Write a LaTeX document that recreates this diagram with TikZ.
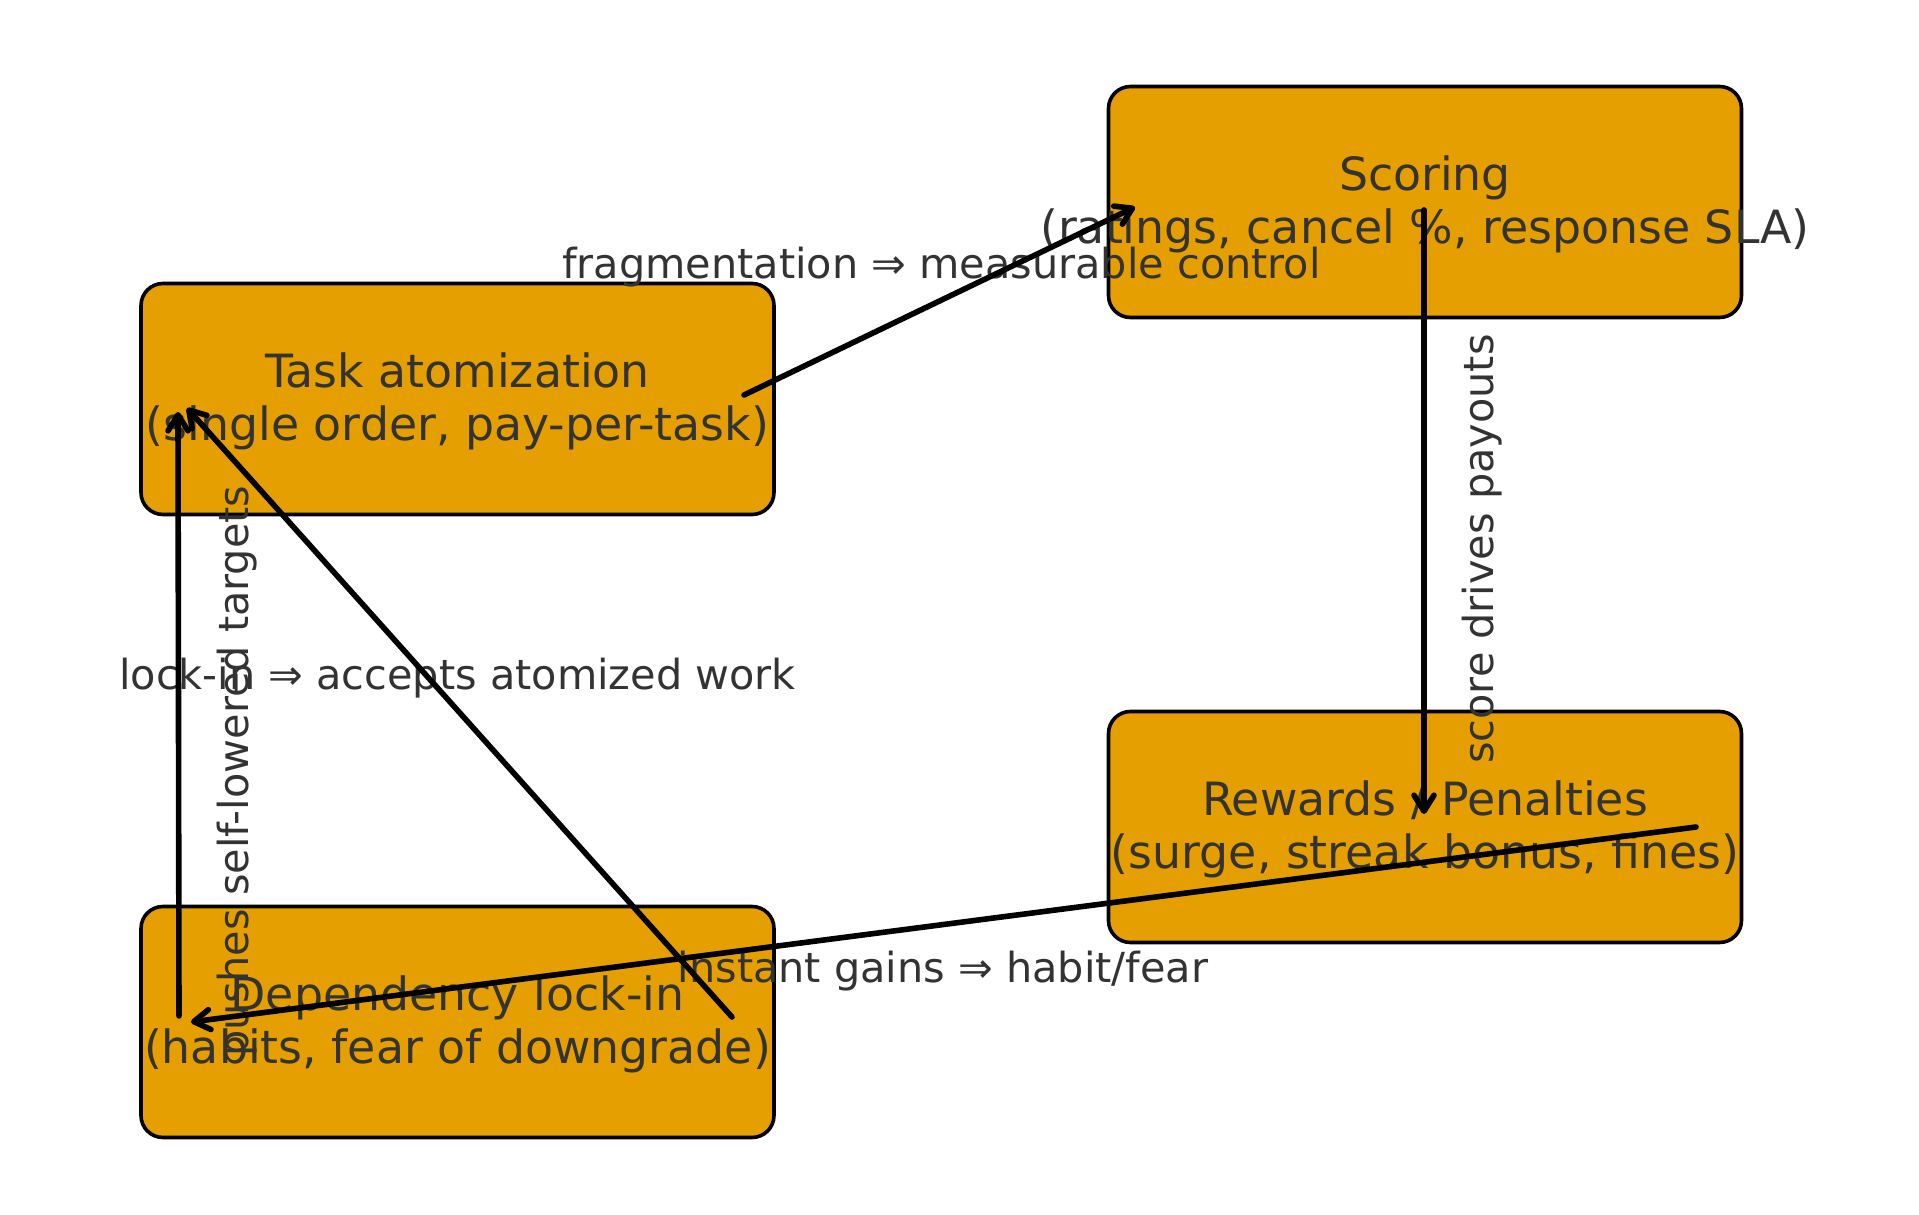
\documentclass[tikz,border=0pt]{standalone}
\usepackage{fontspec}
\setmainfont{DejaVu Sans}
\usetikzlibrary{arrows.meta,calc}
\definecolor{boxfill}{HTML}{E69F00}
\definecolor{txt}{HTML}{333333}
\begin{document}
\begin{tikzpicture}[x=0.5pt,y=-0.5pt,
  box/.style={draw=black, line width=1.8pt, fill=boxfill, rounded corners=11pt,
    minimum width=316.5pt, minimum height=115.5pt, inner sep=0pt, outer sep=0pt},
  boxtext/.style={text=txt, font=\fontsize{22.9pt}{26.2pt}\selectfont, align=center, inner sep=0pt},
  edgelabel/.style={text=txt, font=\fontsize{20.7pt}{24pt}\selectfont, inner sep=0pt, anchor=base},
  arr/.style={draw=black, line width=2.8pt, line cap=round,
    -{Straight Barb[length=8pt,width=10pt,round]}}
]
\useasboundingbox (0,0) rectangle (1919,1215);
\fill[white] (0,0) rectangle (1919,1215);

% boxes
\node[box] (task)    at (457.5,399)  {};
\node[box] (scoring) at (1425,202)   {};
\node[box] (rewards) at (1425,827)   {};
\node[box] (dep)     at (457.5,1022) {};

% box texts
\node[boxtext] (tasktext)    at ($(task.center)+(0,2.5)$)    {Task atomization\\(single order, pay-per-task)};
\node[boxtext] (scoringtext) at ($(scoring.center)+(0,2.5)$) {Scoring\\(ratings, cancel \%, response SLA)};
\node[boxtext] (rewardstext) at ($(rewards.center)+(0,2.5)$) {Rewards / Penalties\\(surge, streak bonus, fines)};
\node[boxtext] (deptext)     at ($(dep.center)+(0,2.5)$)     {Dependency lock-in\\(habits, fear of downgrade)};

% edge labels
\node[edgelabel] (l1) at (941.5,278) {fragmentation ⇒ measurable control};
\node[edgelabel, rotate=90] (l2) at (1493,549) {score drives payouts};
\node[edgelabel] (l3) at (943,982.7) {instant gains ⇒ habit/fear};
\node[edgelabel] (l4) at (457.5,689) {lock-in ⇒ accepts atomized work};
\node[edgelabel, rotate=90] (l5) at (248,771) {pushes self-lowered targets};

% connectors
\draw[arr] ($(task.center)+(286.5,-4)$) -- ($(scoring.center)+(-290,5)$);
\draw[arr] ($(scoring.center)+(-1,8)$) -- ($(rewards.center)+(-1,-13)$);
\draw[arr] ($(rewards.center)+(271,0)$) -- ($(dep.center)+(-266.5,0)$);
\draw[arr] ($(dep.center)+(-278.5,-6)$) -- ($(task.center)+(-279.5,13)$);
\draw[arr] ($(dep.center)+(274.5,-5)$) -- ($(task.center)+(-270.5,9)$);
\end{tikzpicture}
\end{document}
